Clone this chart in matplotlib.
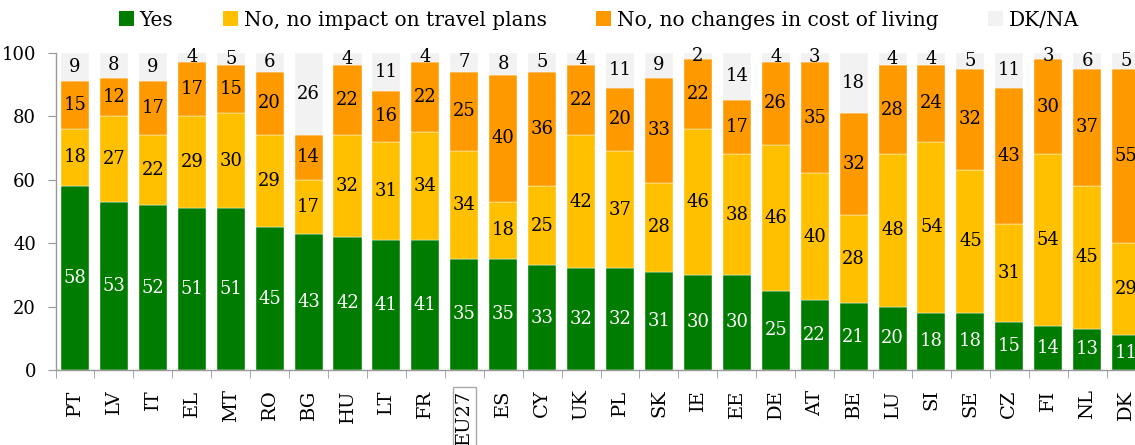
import matplotlib
matplotlib.use("Agg")
import matplotlib.pyplot as plt
import numpy as np
from matplotlib.patches import Patch

countries = ["PT", "LV", "IT", "EL", "MT", "RO", "BG", "HU", "LT", "FR", "EU27",
             "ES", "CY", "UK", "PL", "SK", "IE", "EE", "DE", "AT", "BE", "LU",
             "SI", "SE", "CZ", "FI", "NL", "DK"]
yes = [58, 53, 52, 51, 51, 45, 43, 42, 41, 41, 35, 35, 33, 32, 32, 31, 30, 30,
       25, 22, 21, 20, 18, 18, 15, 14, 13, 11]
no_travel = [18, 27, 22, 29, 30, 29, 17, 32, 31, 34, 34, 18, 25, 42, 37, 28, 46,
             38, 46, 40, 28, 48, 54, 45, 31, 54, 45, 29]
no_cost = [15, 12, 17, 17, 15, 20, 14, 22, 16, 22, 25, 40, 36, 22, 20, 33, 22,
           17, 26, 35, 32, 28, 24, 32, 43, 30, 37, 55]
dkna = [9, 8, 9, 4, 5, 6, 26, 4, 11, 4, 7, 8, 5, 4, 11, 9, 2, 14, 4, 3, 18, 4,
        4, 5, 11, 3, 6, 5]
series_names = ["Yes", "No, no impact on travel plans",
                "No, no changes in cost of living", "DK/NA"]
yticks = [0, 20, 40, 60, 80, 100]

colors = ["#007C00", "#FFC000", "#FF9900", "#F2F2F2"]
plt.rcParams['font.family'] = ['DejaVu Serif']

fig = plt.figure(figsize=(11.35, 4.45), dpi=100)
ax = fig.add_axes([55.5 / 1135, 75 / 445, (1145.6 - 55.5) / 1135, (392.3 - 75) / 445])

x = np.arange(len(countries))
w = 0.72
y1 = np.array(yes, float)
y2 = np.array(no_travel, float)
y3 = np.array(no_cost, float)
cum = y1 + y2 + y3
top = yticks[-1]

ax.bar(x, y1, w, color=colors[0], edgecolor="#FFFFFF", linewidth=0.3)
ax.bar(x, y2, w, bottom=y1, color=colors[1], edgecolor="#FFFFFF", linewidth=0.3)
ax.bar(x, y3, w, bottom=y1 + y2, color=colors[2], edgecolor="#FFFFFF", linewidth=0.3)
ax.bar(x, top - cum, w, bottom=cum, color=colors[3], edgecolor="#FFFFFF", linewidth=0.3)

fs = 13
for i in range(len(x)):
    ax.text(x[i], y1[i] / 2, str(yes[i]), ha="center", va="center", color="white", fontsize=fs)
    ax.text(x[i], y1[i] + y2[i] / 2, str(no_travel[i]), ha="center", va="center", color="black", fontsize=fs)
    ax.text(x[i], y1[i] + y2[i] + y3[i] / 2, str(no_cost[i]), ha="center", va="center", color="black", fontsize=fs)
    ax.text(x[i], (cum[i] + top) / 2, str(dkna[i]), ha="center", va="center", color="black", fontsize=fs)

ax.set_xlim(-0.5, len(x) - 0.5)
ax.set_ylim(0, top)
ax.set_yticks(yticks)
ax.set_yticklabels([str(v) for v in yticks], fontsize=13)
ax.set_xticks(x)
ax.set_xticklabels(countries, rotation=90, fontsize=14)
ax.set_xticks(np.arange(len(x) + 1) - 0.5, minor=True)
ax.tick_params(axis="x", which="major", length=0, pad=14)
ax.tick_params(axis="x", which="minor", length=6, color="#999999")
ax.tick_params(axis="y", length=6, color="#999999", pad=8)
for s in ["top", "right"]:
    ax.spines[s].set_visible(False)
for s in ["left", "bottom"]:
    ax.spines[s].set_color("#999999")
    ax.spines[s].set_linewidth(1.0)

for lbl in ax.get_xticklabels():
    if lbl.get_text() == "EU27":
        lbl.set_bbox(dict(facecolor="none", edgecolor="#AAAAAA", pad=2, linewidth=1))

handles = [Patch(facecolor=c, edgecolor="none") for c in colors]
fig.legend(handles, series_names, loc="center", bbox_to_anchor=(599 / 1135, (445 - 20) / 445),
           ncol=4, frameon=False, fontsize=14.5, handlelength=0.75, handleheight=0.75,
           handletextpad=0.3, columnspacing=2.45)

fig.savefig("out.png", dpi=100)
